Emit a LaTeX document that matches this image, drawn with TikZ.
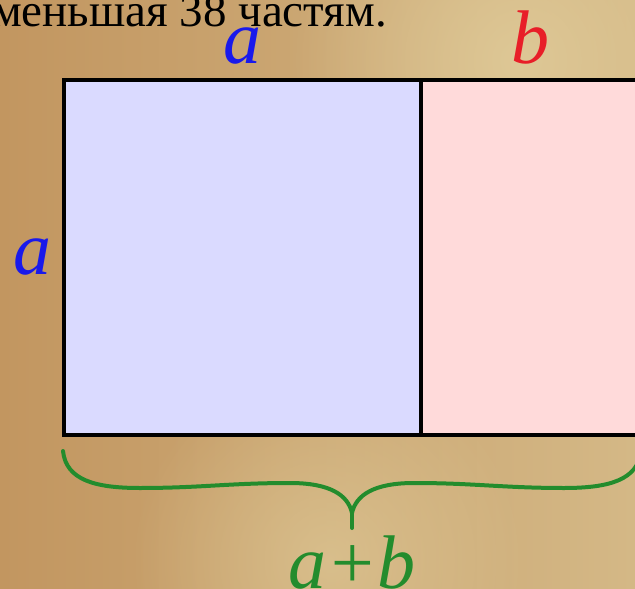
\documentclass[tikz,border=0pt]{standalone}
\usepackage{fontspec}
\setmainfont{Liberation Serif}
\usetikzlibrary{fadings}
\tikzfading[name=softglow, inner color=transparent!0, outer color=transparent!100]
\definecolor{bgLeft}{RGB}{194,150,96}
\definecolor{bgRight}{RGB}{212,184,134}
\definecolor{bgLight}{RGB}{222,200,150}
\definecolor{blueFill}{RGB}{218,218,255}
\definecolor{pinkFill}{RGB}{255,218,218}
\definecolor{labelBlue}{RGB}{25,25,235}
\definecolor{labelRed}{RGB}{232,30,40}
\definecolor{braceGreen}{RGB}{35,140,45}
\begin{document}
\begin{tikzpicture}[x=1pt,y=-1pt,
  lbl/.style={inner sep=0pt, anchor=base, font=\fontsize{76}{80}\selectfont\itshape},
  part/.style={draw=black, line width=4pt, inner sep=0pt, anchor=north west, minimum height=355pt},
  bracepath/.style={draw=braceGreen, line width=4pt, line cap=round, line join=round}]
\useasboundingbox (0,0) rectangle (635,589);
\clip (0,0) rectangle (635,589);
% parchment background
\shade[left color=bgLeft, right color=bgRight] (0,0) rectangle (635,589);
\fill[bgLight, path fading=softglow] (520,60) circle (230);
\fill[bgLight, path fading=softglow, opacity=0.7] (330,560) circle (200);
% title line
\node[anchor=base east, inner sep=0pt, font=\fontsize{47}{52}\selectfont] (title) at (387,26) {меньшая 38 частям.};
% rectangles
\node[part, fill=pinkFill, minimum width=230pt] (rt) at (419,78) {};
\node[part, fill=blueFill, minimum width=357pt] (sq) at (62,78) {};
% labels
\node[lbl, text=labelBlue] (ltop) at (242,63) {a};
\node[lbl, text=labelRed] (btop) at (530,63) {b};
\node[lbl, text=labelBlue] (lleft) at (32,274) {a};
\node[lbl, text=braceGreen] (sum) at (352,588) {a+b};
% brace
\coordinate (bl) at (63,451);
\coordinate (br) at (641,451);
\coordinate (cusp) at (352,513);
\coordinate (tip) at (352,528);
\path[bracepath] (bl) .. controls (66,480) and (95,488) .. (140,488)
  .. controls (200,488) and (230,483) .. (290,483)
  .. controls (330,483) and (348,495) .. (cusp)
  .. controls (356,495) and (374,483) .. (414,483)
  .. controls (474,483) and (504,488) .. (564,488)
  .. controls (609,488) and (638,480) .. (br);
\path[bracepath] (cusp) -- (tip);
\end{tikzpicture}
\end{document}
